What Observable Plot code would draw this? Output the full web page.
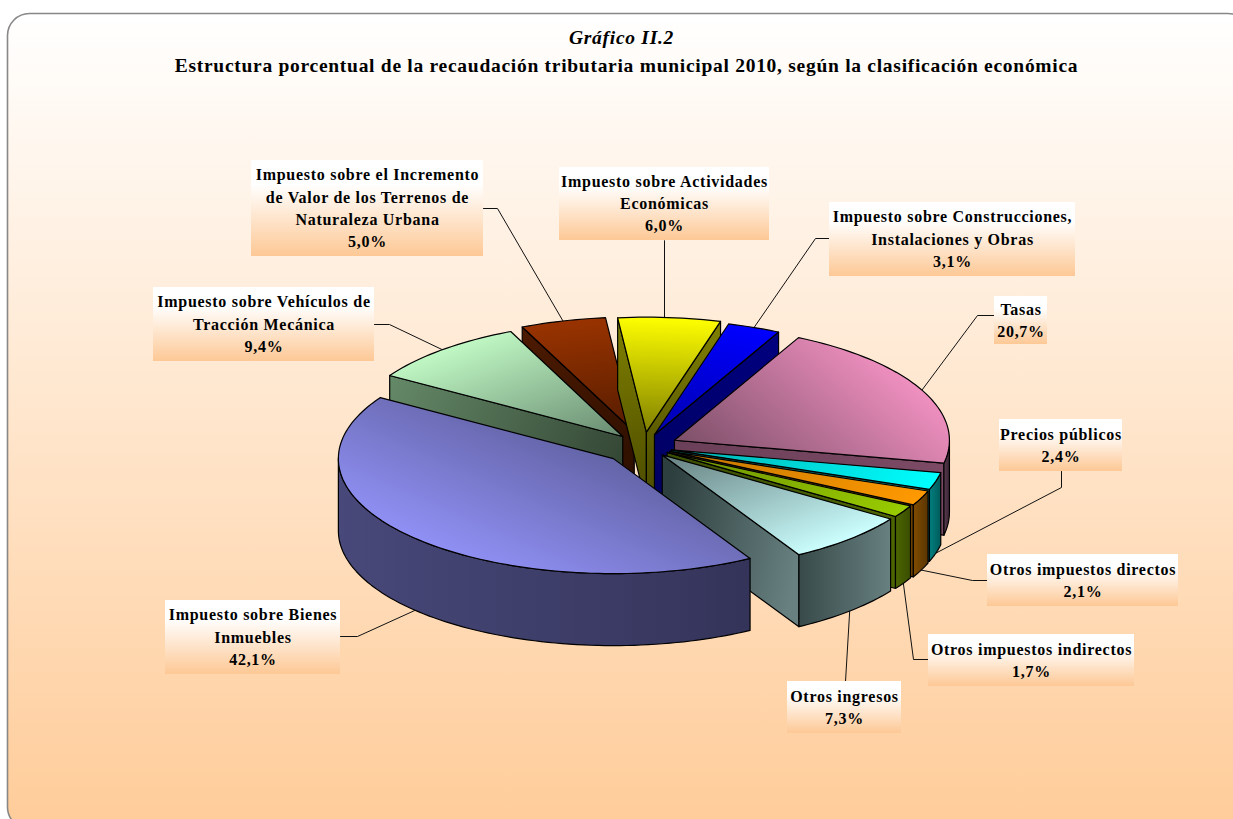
<!DOCTYPE html>
<html lang="es"><head><meta charset="utf-8">
<script src="https://cdn.jsdelivr.net/npm/d3@7"></script>
<script src="https://cdn.jsdelivr.net/npm/@observablehq/plot@0.6"></script>
<style>html,body{margin:0;padding:0;background:#fff;overflow:hidden}#c{width:1233px;height:819px;overflow:hidden}svg{display:block}</style>
</head><body><div id="c"></div>
<script>
// --- values (clockwise, beginning with the slice just left of 12 o'clock)
const categories = [
  "Impuesto sobre Actividades\nEconómicas",
  "Impuesto sobre Construcciones,\nInstalaciones y Obras",
  "Tasas",
  "Precios públicos",
  "Otros impuestos directos",
  "Otros impuestos indirectos",
  "Otros ingresos",
  "Impuesto sobre Bienes\nInmuebles",
  "Impuesto sobre Vehículos de\nTracción Mecánica",
  "Impuesto sobre el Incremento\nde Valor de los Terrenos de\nNaturaleza Urbana"
];
const shares = [6.0, 3.1, 20.7, 2.4, 2.1, 1.7, 7.3, 42.1, 9.4, 5.0];
// --- pie pull-out, as a fraction of the radius
const explode = [.125, .11, .125, .105, .105, .1, .1, .152, .115, .13];
// --- colours
const topRim  = ["#ffff00","#0000ff","#f090c0","#00ffff","#ff9900","#99cc00","#ccffff","#9090f5","#c0f8c4","#993300"];
const topApex = ["#808000","#0000b0","#7c4f68","#00b0b0","#c07500","#6b8f00","#668080","#6464a8","#688a70","#551c00"];
const wallRim  = ["#808000","#000080","#7c4a64","#008080","#804c00","#4d6600","#688080","#46467a","#658a68","#4d1a00"];
const wallApex = ["#4a4a00","#000060","#6a3f58","#006060","#5a3500","#3a4d00","#2e3f3f","#2e2e52","#2f4030","#2a0e00"];
const arcLeft  = ["#808000","#000080","#5a3a50","#008080","#804c00","#4d6600","#384a4a","#48487a","#658a68","#4d1a00"];
const arcRight = ["#808000","#000080","#3a2634","#005a5a","#5a3500","#3a4d00","#688080","#34345a","#658a68","#4d1a00"];
// --- callouts: text box [left, right, top, bottom], elbow of the leader, box anchor of the leader
const boxes = [[559,769,167,240],[829,1075,202,276],[994,1047,296,344],[999,1122,419,471],[987,1178,554,606],
               [928,1134,634,686],[787,901,681,733],[165,340,600,674],[153,374,287,361],[251,483,160,256]];
const elbows = [[664,240],[815,238],[977,315],[1061,487],[972,580],[913,659],[845,681],[357,636],[389,324],[497,208]];
const leaderStart = [[664,240],[829,238],[994,315],[1061,471],[987,580],[928,659],[845,681],[340,636],[374,324],[483,208]];
const straightDownLeaders = [0];

const W = 1233, H = 819;
const pie = {cx: 643, cy: 446, a: 275, b: 115, depth: 72, start: -6};
const rad = Math.PI / 180;
const total = d3.sum(shares);
const cum = d3.cumsum(shares);
const slices = shares.map((s, i) => {
  const a0 = pie.start + 360 * (i ? cum[i - 1] : 0) / total;
  const a1 = pie.start + 360 * cum[i] / total;
  const mid = (a0 + a1) / 2;
  const ax = pie.cx + explode[i] * pie.a * Math.sin(mid * rad);
  const ay = pie.cy - explode[i] * pie.b * Math.cos(mid * rad);
  const rim = t => ({x: ax + pie.a * Math.sin(t * rad), y: ay - pie.b * Math.cos(t * rad)});
  return {i, a0, a1, mid, apex: {x: ax, y: ay}, rim};
});
const down = p => ({x: p.x, y: p.y + pie.depth});

const defs = [];
function grad(id, p, q, c0, c1) { defs.push({id, p, q, stops: [[0, c0], [1, c1]]}); return `url(#${id})`; }
const poly = (pts, fill) => Plot.line(pts, {x: "x", y: "y", curve: "linear-closed", fill, stroke: "#000", strokeWidth: 1.2, strokeLinejoin: "round"});

// gradient of a top face: lines of equal colour follow the ellipse's tangent at the slice's middle angle
function topEnd(s) {
  const m = s.mid * rad, tx = pie.a * Math.cos(m), ty = pie.b * Math.sin(m);
  const n = Math.hypot(tx, ty), nx = -ty / n, ny = tx / n;
  const R = s.rim(s.mid), d = (R.x - s.apex.x) * nx + (R.y - s.apex.y) * ny;
  return {x: s.apex.x + nx * d, y: s.apex.y + ny * d};
}

// every slice: visible walls first, top face last; order is back to front
const drawOrder = [9, 0, 1, 8, 2, 3, 4, 5, 6, 7];
const pieMarks = [];
for (const k of drawOrder) {
  const s = slices[k];
  const arc = d3.range(s.a0, s.a1, 1.5).concat(s.a1).map(s.rim);
  const A = s.apex, R0 = arc[0], R1 = arc[arc.length - 1];
  if (A.x > R0.x) pieMarks.push(poly([A, R0, down(R0), down(A)], grad(`ws${k}`, R0, down(A), wallRim[k], wallApex[k])));
  if (R1.x > A.x) pieMarks.push(poly([R1, A, down(A), down(R1)], grad(`we${k}`, R1, down(A), wallRim[k], wallApex[k])));
  // runs of the rim that face the viewer
  let run = [];
  const flush = () => {
    if (run.length > 1) {
      const xs = run.map(p => p.x), l = d3.min(xs), r = d3.max(xs);
      pieMarks.push(poly(run.concat(run.slice().reverse().map(down)),
        grad(`wa${k}_${pieMarks.length}`, {x: l, y: 0}, {x: r, y: 0}, arcLeft[k], arcRight[k])));
    }
    run = [];
  };
  for (let j = 0; j < arc.length - 1; j++) {
    if (arc[j + 1].x < arc[j].x) { if (!run.length) run.push(arc[j]); run.push(arc[j + 1]); }
    else flush();
  }
  flush();
  pieMarks.push(poly([A, ...arc], grad(`t${k}`, A, topEnd(s), topApex[k], topRim[k])));
}

// leaders end on the rim at each slice's middle angle
const leaders = slices.map(s => {
  const r = s.rim(s.mid), front = Math.cos(s.mid * rad) < 0;
  const end = front ? down(r) : r;
  const a = leaderStart[s.i], e = elbows[s.i];
  const ex = straightDownLeaders.includes(s.i) ? a[0] : end.x;
  return [{x: a[0], y: a[1], k: s.i}, {x: e[0], y: e[1], k: s.i}, {x: ex, y: end.y, k: s.i}];
}).flat();

const pct = v => v.toFixed(1).replace(".", ",") + "%";
const labelRows = categories.map((c, i) => ({
  l: boxes[i][0], r: boxes[i][1], t: boxes[i][2], b: boxes[i][3],
  text: c + "\n" + pct(shares[i])
}));

const defsMark = () => {
  const d = d3.create("svg:defs");
  const panel = d.append("linearGradient").attr("id", "panel").attr("x1", 0).attr("y1", 0).attr("x2", 0).attr("y2", 1);
  panel.append("stop").attr("offset", 0).attr("stop-color", "#ffffff");
  panel.append("stop").attr("offset", 1).attr("stop-color", "#ffcc99");
  const box = d.append("linearGradient").attr("id", "box").attr("x1", 0).attr("y1", 0).attr("x2", 0).attr("y2", 1);
  box.append("stop").attr("offset", 0).attr("stop-color", "#ffffff");
  box.append("stop").attr("offset", .25).attr("stop-color", "#ffffff");
  box.append("stop").attr("offset", 1).attr("stop-color", "#fdc895");
  for (const g of defs) {
    const e = d.append("linearGradient").attr("id", g.id).attr("gradientUnits", "userSpaceOnUse")
      .attr("x1", g.p.x).attr("y1", g.p.y).attr("x2", g.q.x).attr("y2", g.q.y);
    for (const [o, c] of g.stops) e.append("stop").attr("offset", o).attr("stop-color", c);
  }
  return d.node();
};

const serif = "'Liberation Serif','Times New Roman',serif";
const plot = Plot.plot({
  width: W, height: H, margin: 0,
  x: {domain: [0, W], range: [0, W], axis: null},
  y: {domain: [0, H], range: [0, H], axis: null},
  style: {background: "#fff", fontFamily: serif},
  marks: [
    defsMark,
    Plot.rect([{x1: 7.5, x2: 1250, y1: 13.5, y2: 829}], {x1: "x1", x2: "x2", y1: "y1", y2: "y2", rx: 22, fill: "url(#panel)", stroke: "#888", strokeWidth: 1.6}),
    Plot.line(leaders, {x: "x", y: "y", z: "k", stroke: "#111", strokeWidth: 1}),
    ...pieMarks,
    Plot.rect(labelRows, {x1: "l", x2: "r", y1: "t", y2: "b", fill: "url(#box)"}),
    Plot.text(labelRows, {x: d => (d.l + d.r) / 2, y: d => (d.t + d.b) / 2 - 2, text: "text", fontSize: 16, fontWeight: "bold", lineHeight: 22.2 / 16, fill: "#000", textAnchor: "middle"}),
    Plot.text(["Gráfico II.2"], {x: () => 621, y: () => 37, text: d => d, fontSize: 19.5, fontWeight: "bold", fontStyle: "italic", fill: "#000"}),
    Plot.text(["Estructura porcentual de la recaudación tributaria municipal 2010, según la clasificación económica"], {x: () => 626, y: () => 65, text: d => d, fontSize: 19.5, fontWeight: "bold", fill: "#000"})
  ]
});
plot.style.letterSpacing = "0.72px";
document.getElementById("c").append(plot);
</script>
</body></html>
